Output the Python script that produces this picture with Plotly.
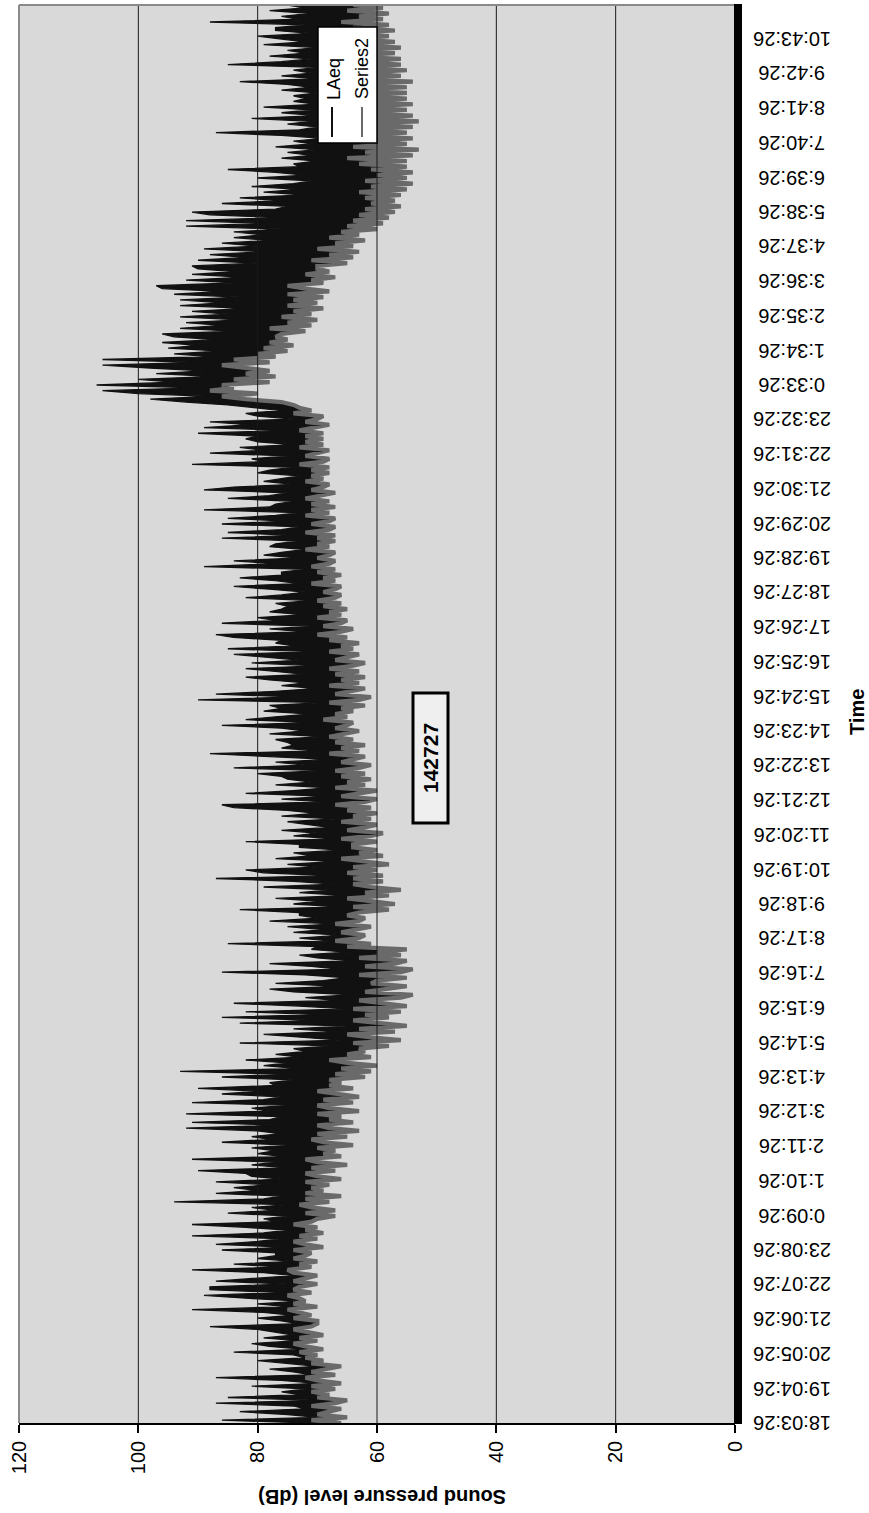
import plotly.graph_objects as go

# ---------------- data (5-minute readings) ----------------
laeq = [
    71, 86, 70, 75, 83, 72, 74, 87, 70, 85, 73, 76,
    72, 81, 70, 76, 87, 71, 74, 78, 70, 75, 80, 72,
    74, 84, 72, 78, 81, 73, 79, 74, 77, 80, 88, 73,
    76, 80, 74, 79, 91, 75, 80, 73, 82, 89, 76, 88,
    88, 75, 87, 80, 74, 79, 91, 76, 84, 74, 80, 77,
    77, 86, 75, 87, 80, 76, 91, 79, 75, 82, 91, 77,
    79, 75, 85, 77, 81, 75, 94, 79, 76, 87, 80, 84,
    78, 87, 76, 81, 82, 90, 75, 81, 77, 91, 76, 80,
    77, 81, 75, 86, 78, 81, 76, 80, 92, 76, 91, 78,
    76, 92, 78, 81, 75, 91, 79, 76, 86, 80, 90, 77,
    78, 74, 86, 76, 93, 73, 79, 75, 82, 73, 77, 72,
    74, 68, 83, 66, 73, 79, 67, 74, 65, 83, 70, 86,
    70, 82, 65, 73, 84, 67, 72, 64, 74, 78, 66, 77,
    69, 65, 72, 86, 66, 71, 78, 64, 70, 73, 65, 71,
    70, 85, 68, 73, 66, 74, 69, 75, 67, 78, 70, 73,
    73, 83, 66, 74, 70, 77, 65, 73, 68, 79, 67, 74,
    87, 68, 79, 82, 70, 75, 67, 77, 71, 74, 66, 73,
    73, 82, 67, 74, 70, 76, 68, 72, 75, 67, 76, 70,
    75, 84, 86, 69, 76, 68, 82, 74, 68, 77, 71, 75,
    76, 80, 69, 84, 72, 77, 68, 78, 88, 70, 76, 74,
    75, 77, 69, 78, 72, 76, 86, 70, 82, 77, 71, 79,
    76, 78, 69, 90, 73, 87, 77, 70, 76, 72, 78, 82,
    72, 77, 82, 70, 81, 73, 78, 84, 71, 85, 74, 77,
    76, 84, 87, 72, 78, 71, 86, 77, 80, 72, 78, 76,
    75, 77, 71, 82, 76, 72, 78, 84, 73, 77, 83, 76,
    76, 72, 89, 77, 84, 73, 79, 76, 72, 78, 77, 73,
    86, 74, 85, 76, 73, 86, 75, 85, 77, 73, 89, 78,
    77, 74, 85, 78, 75, 89, 84, 74, 79, 76, 73, 80,
    78, 74, 91, 79, 81, 75, 88, 79, 83, 74, 80, 82,
    80, 90, 75, 89, 81, 88, 74, 80, 82, 76, 81, 85,
    92, 98, 88, 100, 106, 90, 107, 94, 100, 87, 97, 89,
    98, 106, 90, 106, 88, 94, 86, 95, 90, 96, 87, 94,
    96, 84, 93, 86, 92, 83, 93, 85, 91, 82, 93, 86,
    93, 83, 94, 86, 96, 97, 84, 92, 82, 91, 84, 90,
    91, 80, 90, 82, 88, 79, 89, 80, 86, 78, 84, 79,
    84, 76, 92, 79, 92, 76, 88, 91, 77, 75, 86, 76,
    83, 72, 79, 73, 81, 74, 71, 80, 72, 77, 85, 73,
    74, 70, 76, 71, 75, 70, 77, 71, 74, 69, 76, 87,
    73, 70, 75, 71, 81, 70, 76, 71, 79, 70, 74, 72,
    74, 70, 76, 71, 75, 83, 70, 76, 71, 74, 70, 85,
    76, 71, 78, 72, 75, 70, 79, 72, 76, 80, 71, 77,
    77, 72, 88, 73, 76, 71, 78, 72, 75,
]

series2 = [
    66, 71, 65, 70, 68, 66, 71, 67, 65, 70, 68, 71,
    67, 71, 66, 70, 72, 67, 71, 68, 66, 71, 69, 72,
    70, 73, 69, 72, 74, 70, 73, 69, 72, 74, 71, 70,
    70, 74, 71, 73, 75, 70, 74, 72, 73, 75, 71, 74,
    73, 70, 74, 72, 70, 74, 75, 71, 73, 70, 74, 72,
    71, 74, 69, 72, 74, 70, 73, 69, 72, 70, 74, 71,
    70, 67, 72, 67, 71, 73, 68, 72, 66, 72, 69, 71,
    68, 72, 66, 70, 72, 67, 71, 65, 70, 72, 66, 69,
    67, 70, 64, 69, 71, 65, 70, 63, 68, 70, 64, 68,
    66, 70, 63, 68, 70, 64, 69, 63, 67, 70, 64, 68,
    66, 68, 62, 67, 61, 66, 60, 65, 68, 61, 65, 62,
    63, 58, 64, 56, 61, 65, 57, 63, 55, 60, 64, 58,
    62, 56, 64, 55, 59, 63, 56, 54, 62, 58, 55, 61,
    60, 55, 63, 56, 54, 62, 57, 55, 63, 56, 60, 55,
    65, 61, 67, 63, 62, 66, 63, 61, 67, 63, 62, 65,
    63, 58, 64, 57, 61, 65, 58, 62, 56, 61, 64, 59,
    64, 59, 65, 60, 64, 58, 62, 66, 59, 63, 60, 64,
    64, 60, 66, 61, 59, 65, 62, 60, 66, 61, 64, 60,
    65, 61, 67, 62, 60, 66, 63, 60, 67, 62, 65, 61,
    66, 62, 67, 63, 61, 66, 64, 62, 68, 63, 66, 62,
    67, 64, 68, 65, 63, 67, 65, 64, 69, 65, 67, 64,
    66, 62, 68, 63, 61, 67, 64, 62, 68, 63, 66, 62,
    67, 63, 68, 64, 62, 67, 65, 63, 68, 64, 66, 63,
    68, 65, 70, 66, 64, 69, 66, 65, 70, 66, 68, 65,
    69, 66, 70, 67, 66, 69, 67, 66, 71, 67, 69, 66,
    70, 67, 71, 68, 67, 70, 68, 67, 72, 68, 70, 67,
    70, 67, 72, 68, 67, 71, 68, 67, 72, 68, 71, 67,
    71, 68, 72, 69, 67, 71, 69, 68, 72, 69, 71, 68,
    71, 68, 73, 69, 68, 72, 70, 68, 73, 69, 72, 69,
    72, 69, 73, 70, 68, 72, 70, 69, 74, 71, 73, 74,
    76, 82, 86, 80, 88, 84, 86, 78, 84, 77, 82, 78,
    82, 86, 78, 84, 77, 80, 75, 79, 74, 78, 75, 77,
    76, 72, 78, 71, 75, 70, 76, 71, 74, 69, 75, 70,
    74, 69, 75, 68, 72, 75, 69, 71, 67, 72, 68, 70,
    70, 65, 71, 64, 68, 63, 70, 64, 67, 62, 68, 63,
    66, 60, 65, 59, 64, 58, 63, 57, 62, 56, 61, 57,
    62, 56, 63, 55, 61, 54, 62, 55, 60, 54, 61, 55,
    63, 55, 65, 54, 62, 53, 64, 55, 63, 54, 65, 55,
    64, 54, 66, 53, 63, 54, 65, 55, 64, 54, 63, 55,
    63, 55, 65, 55, 64, 54, 66, 56, 64, 55, 65, 56,
    64, 56, 66, 57, 63, 56, 65, 57, 64, 58, 66, 57,
    64, 58, 66, 59, 63, 58, 65, 59, 64,
]

step_minutes = 5
minutes = [i * step_minutes for i in range(len(laeq))]

tick_labels = [
    "18:03:26", "19:04:26", "20:05:26", "21:06:26", "22:07:26", "23:08:26",
    "0:09:26", "1:10:26", "2:11:26", "3:12:26", "4:13:26", "5:14:26",
    "6:15:26", "7:16:26", "8:17:26", "9:18:26", "10:19:26", "11:20:26",
    "12:21:26", "13:22:26", "14:23:26", "15:24:26", "16:25:26", "17:26:26",
    "18:27:26", "19:28:26", "20:29:26", "21:30:26", "22:31:26", "23:32:26",
    "0:33:26", "1:34:26", "2:35:26", "3:36:26", "4:37:26", "5:38:26",
    "6:39:26", "7:40:26", "8:41:26", "9:42:26", "10:43:26",
]
tick_step = 61
tick_minutes = [k * tick_step for k in range(len(tick_labels))]

db_ticks = [0, 20, 40, 60, 80, 100, 120]

# ---------------- layout geometry (pixels) ----------------
W, H = 869, 1513
L, R, T, B = 19, 735, 5, 1423
FONT = "Liberation Sans, Arial, sans-serif"
BG = "#d9d9d9"
BLACK = "#111111"
GREY = "#6a6a6a"


def PX(x):
    return (x - L) / (R - L)


def PY(y):
    return (B - y) / (B - T)


fig = go.Figure()
# LAeq: line, with the area from it down to Series2 shaded black
fig.add_trace(go.Scatter(x=laeq, y=minutes, mode="lines", name="LAeq",
                         line=dict(color=BLACK, width=1.3), fill="tozerox", fillcolor=BLACK,
                         showlegend=False))
# Series2: grey line; area below it restored to the plot background
fig.add_trace(go.Scatter(x=series2, y=minutes, mode="lines", name="Series2",
                         line=dict(color=GREY, width=4.2), fill="tozerox", fillcolor=BG,
                         showlegend=False))

shapes = []
for v in [20, 40, 60, 80, 100]:
    shapes.append(dict(type="line", xref="x", yref="paper", x0=v, x1=v, y0=0, y1=1,
                       line=dict(color="#1a1a1a", width=1), layer="above"))
shapes += [
    dict(type="line", xref="paper", yref="paper", x0=PX(L), x1=PX(L), y0=PY(T), y1=PY(B),
         line=dict(color="#8a8a8a", width=2), layer="above"),
    dict(type="line", xref="paper", yref="paper", x0=PX(L), x1=PX(R), y0=PY(T), y1=PY(T),
         line=dict(color="#8a8a8a", width=2), layer="above"),
    dict(type="rect", xref="paper", yref="paper", x0=PX(734), x1=PX(742), y0=PY(4), y1=PY(1424),
         fillcolor="#000000", line=dict(width=0), layer="above"),
    dict(type="rect", xref="paper", yref="paper", x0=PX(318), x1=PX(377), y0=PY(27), y1=PY(143),
         fillcolor="white", line=dict(color="black", width=1.5), layer="above"),
    dict(type="line", xref="paper", yref="paper", x0=PX(332), x1=PX(332), y0=PY(107), y1=PY(137),
         line=dict(color=BLACK, width=2), layer="above"),
    dict(type="line", xref="paper", yref="paper", x0=PX(362), x1=PX(362), y0=PY(107), y1=PY(137),
         line=dict(color=GREY, width=2), layer="above"),
    dict(type="rect", xref="paper", yref="paper", x0=PX(413), x1=PX(448), y0=PY(693), y1=PY(823),
         fillcolor="#efefef", line=dict(color="black", width=3), layer="above"),
]

annotations = []
for m, lab in zip(tick_minutes, tick_labels):
    annotations.append(dict(x=PX(792), y=m, xref="paper", yref="y", text=lab,
                            showarrow=False, textangle=180, xanchor="center", yanchor="middle",
                            font=dict(family=FONT, size=20, color="black")))


def note(x, y, text, angle, size):
    return dict(x=PX(x), y=PY(y), xref="paper", yref="paper", text=text, showarrow=False,
                textangle=angle, xanchor="center", yanchor="middle",
                font=dict(family=FONT, size=size, color="black"))


annotations += [
    note(382, 1497, "<b>Sound pressure level (dB)</b>", 180, 20),
    note(857, 712, "<b>Time</b>", -90, 20),
    note(431, 758, "<b>142727</b>", -90, 21),
    note(334, 79, "LAeq", -90, 18),
    note(362, 69, "Series2", -90, 18),
]

fig.update_layout(
    width=W, height=H,
    margin=dict(l=L, r=W - R, t=T, b=H - B, pad=0),
    paper_bgcolor="white", plot_bgcolor=BG,
    font=dict(family=FONT, size=20, color="black"),
    shapes=shapes, annotations=annotations, showlegend=False,
    xaxis=dict(range=[120, 0], tickvals=db_ticks, ticktext=[str(v) for v in db_ticks],
               tickangle=-90, ticks="outside", ticklen=8, tickcolor="black", tickwidth=1.5,
               showgrid=False, zeroline=False,
               showline=True, linecolor="black", linewidth=1.5,
               tickfont=dict(family=FONT, size=20, color="black"), fixedrange=True),
    yaxis=dict(range=[0, 2500], showgrid=False, zeroline=False, showticklabels=False,
               ticks="", showline=False, fixedrange=True),
)

fig.write_html("out.html", config={"displayModeBar": False},
               post_script="document.body.style.margin='0';document.body.style.overflow='hidden';")
